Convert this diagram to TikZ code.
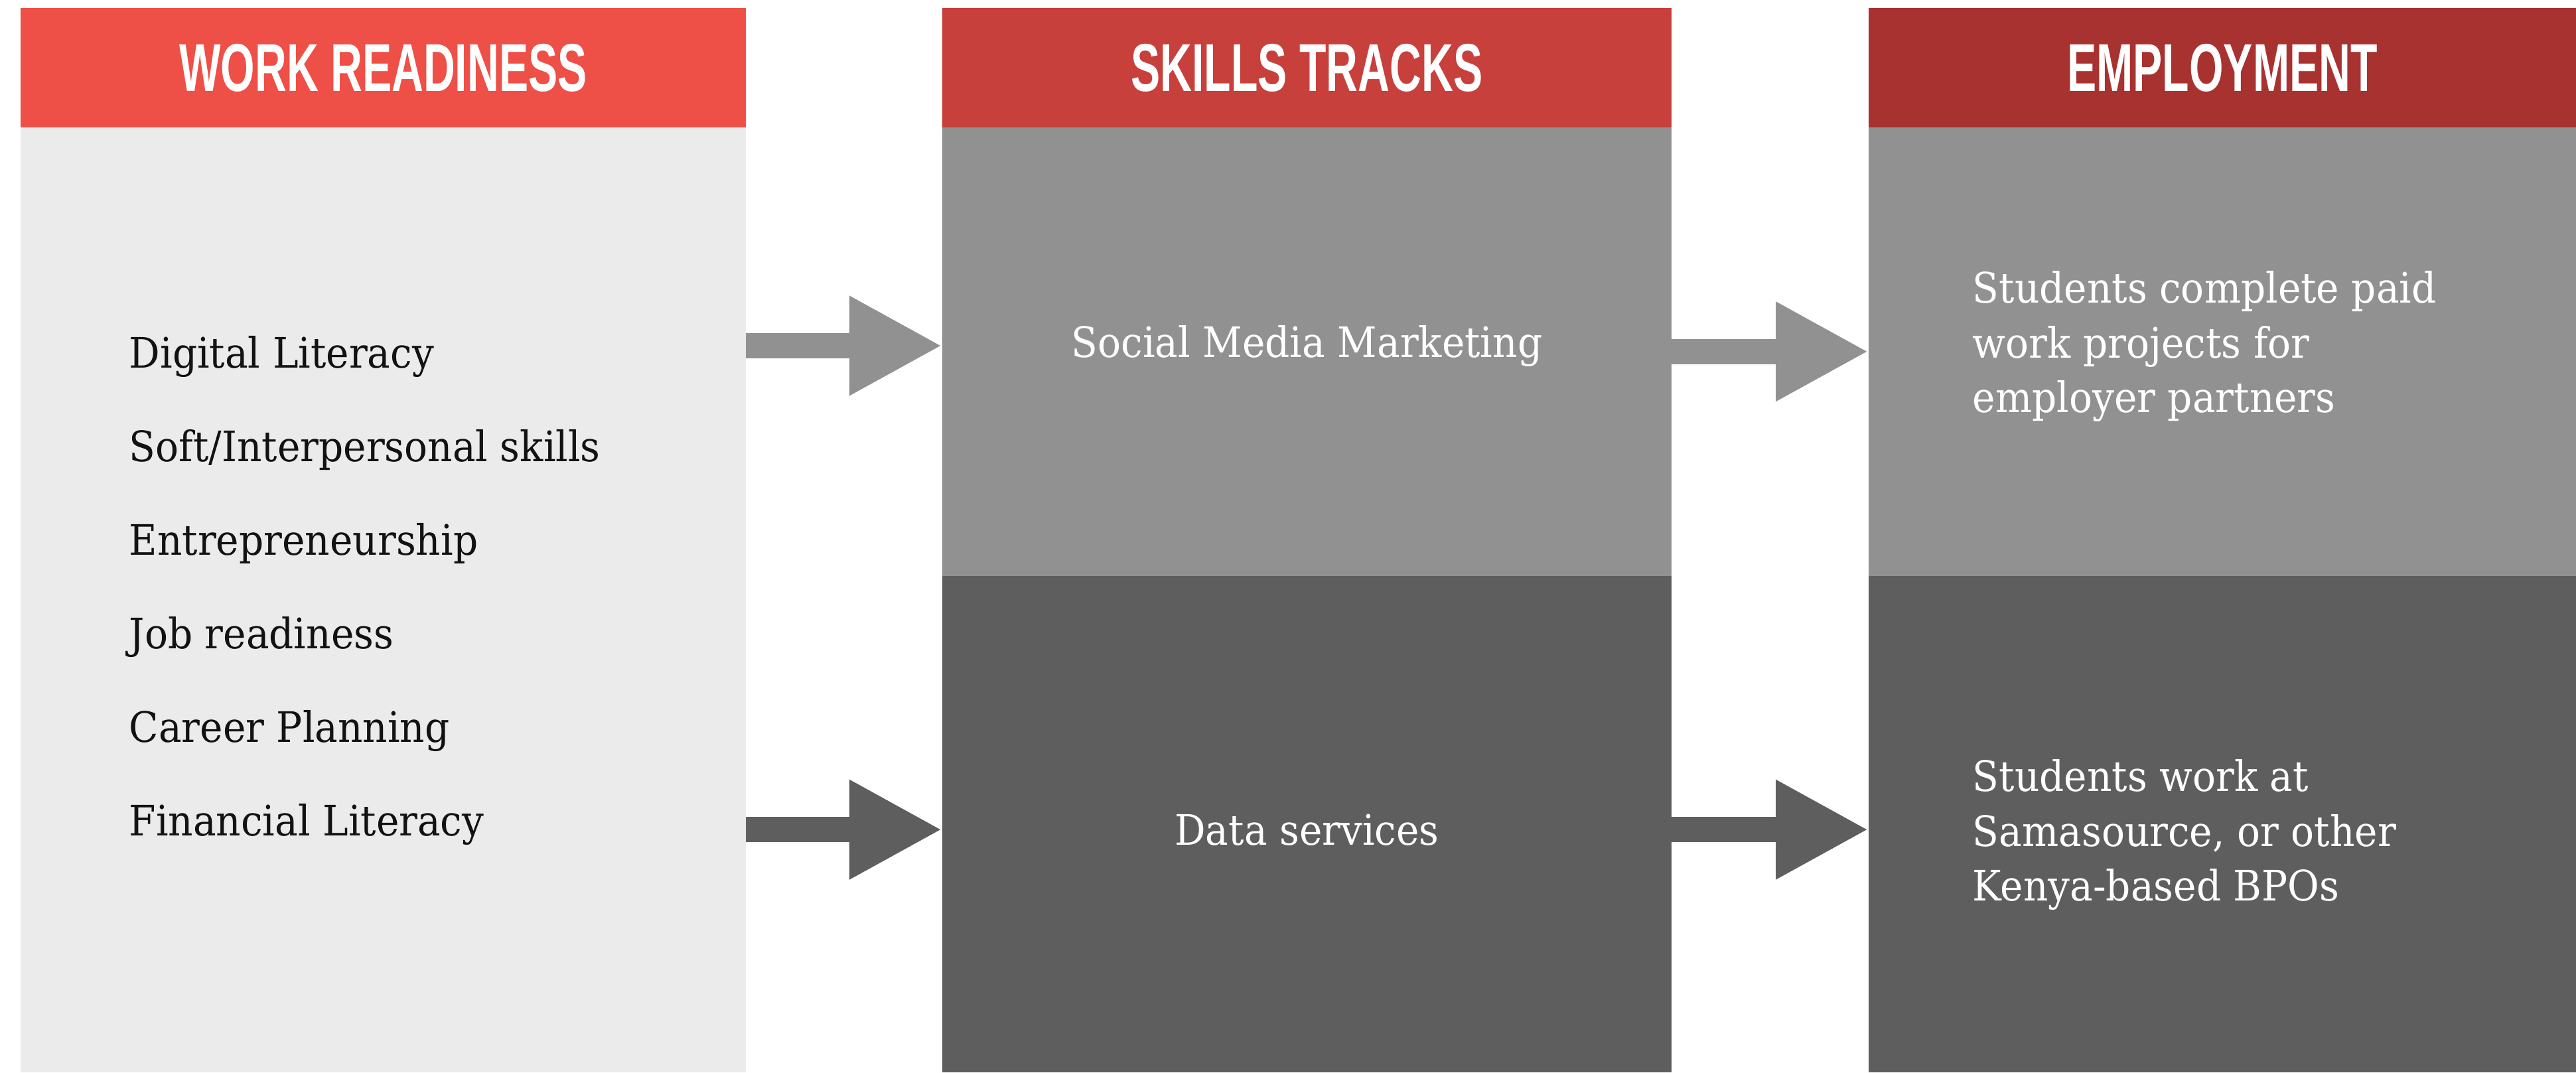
\documentclass[tikz,border=0pt]{standalone}
\usepackage{fontspec}
\newfontfamily\headfont{Liberation Sans}[FakeStretch=0.65]
\newfontfamily\bodyfont{DejaVu Serif}[FakeStretch=0.92]
\usetikzlibrary{positioning, arrows.meta}
\definecolor{wrRed}{HTML}{EE4F46}
\definecolor{skRed}{HTML}{C7403B}
\definecolor{emRed}{HTML}{A83230}
\definecolor{paleGray}{HTML}{EBEBEB}
\definecolor{midGray}{HTML}{919191}
\definecolor{darkGray}{HTML}{5E5E5E}

\begin{document}
\begin{tikzpicture}[
    head/.style={rectangle, minimum height=1.8cm, inner sep=0, outer sep=0, text=white, font=\headfont\bfseries\fontsize{29}{30}\selectfont},
    block/.style={rectangle, inner sep=0, outer sep=0},
    item/.style={anchor=base west, inner sep=0, text=black!93, font=\bodyfont\fontsize{18}{23.5}\selectfont},
    track/.style={inner sep=0, text=white, font=\bodyfont\fontsize{18}{23.5}\selectfont},
    flowLight/.style={draw=midGray, line width=0.375cm, -{Triangle[length=1.4cm, width=1.4cm]}},
    flowDark/.style={draw=darkGray, line width=0.375cm, -{Triangle[length=1.4cm, width=1.4cm]}}
]
    \useasboundingbox (0,0) rectangle (38.82,-16.16);

    % column heads
    \node (wrHead) [head, fill=wrRed, minimum width=10.93cm, anchor=north west] at (0.31,-0.12) {WORK READINESS};
    \node (skHead) [head, fill=skRed, minimum width=10.99cm, right=2.96cm of wrHead] {SKILLS TRACKS};
    \node (emHead) [head, fill=emRed, minimum width=10.66cm, right=2.97cm of skHead] {EMPLOYMENT};

    % column bodies
    \node (wrBody) [block, fill=paleGray, minimum width=10.93cm, minimum height=14.24cm, below=0pt of wrHead] {};
    \node (smm) [block, fill=midGray, minimum width=10.99cm, minimum height=6.755cm, below=0pt of skHead] {};
    \node (data) [block, fill=darkGray, minimum width=10.99cm, minimum height=7.485cm, below=0pt of smm] {};
    \node (empA) [block, fill=midGray, minimum width=10.66cm, minimum height=6.755cm, below=0pt of emHead] {};
    \node (empB) [block, fill=darkGray, minimum width=10.66cm, minimum height=7.485cm, below=0pt of empA] {};

    % work readiness list
    \node (digital) [item] at (1.94,-5.54) {Digital Literacy};
    \node (soft) [item] at ([yshift=-1.41cm]digital.base west) {Soft/Interpersonal skills};
    \node (entre) [item] at ([yshift=-1.41cm]soft.base west) {Entrepreneurship};
    \node (job) [item] at ([yshift=-1.41cm]entre.base west) {Job readiness};
    \node (career) [item] at ([yshift=-1.41cm]job.base west) {Career Planning};
    \node (finance) [item] at ([yshift=-1.41cm]career.base west) {Financial Literacy};

    % track and employment texts
    \node (smmText) [track, anchor=base] at (19.695,-5.38) {Social Media Marketing};
    \node (dataText) [track, anchor=base] at (19.695,-12.73) {Data services};
    \node (empAText) [track, anchor=west, align=left] at (29.72,-5.22) {Students complete paid\\work projects for\\employer partners};
    \node (empBText) [track, anchor=west, align=left] at (29.72,-12.58) {Students work at\\Samasource, or other\\Kenya-based BPOs};

    \draw [flowLight] (wrBody.east |- smmText) -- (smmText -| smm.west);
    \draw [flowLight] (smm.east) -- (empA.west);
    \draw [flowDark] (wrBody.east |- dataText) -- (dataText -| data.west);
    \draw [flowDark] (data.east |- dataText) -- (dataText -| empB.west);
\end{tikzpicture}
\end{document}
